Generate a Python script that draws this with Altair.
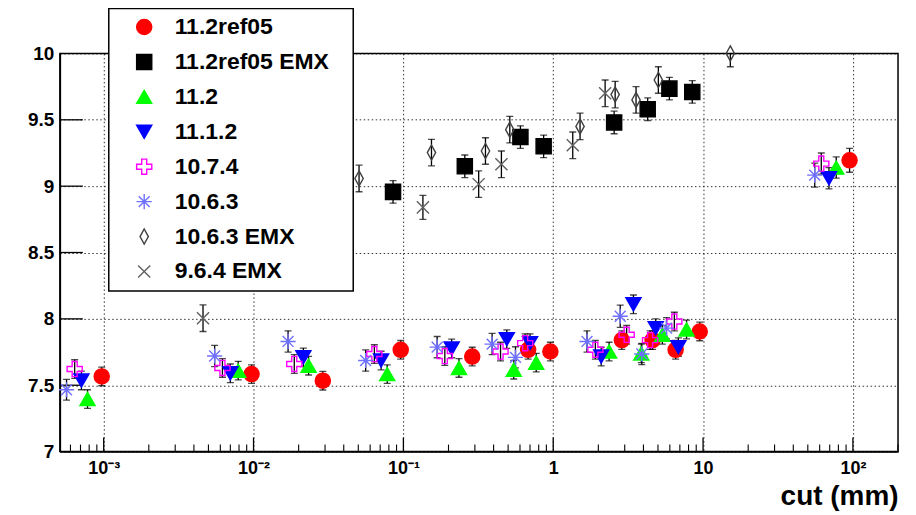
import altair as alt
import pandas as pd

# ---------------- data ----------------
SERIES = ["11.2ref05", "11.2ref05 EMX", "11.2", "11.1.2", "10.7.4",
          "10.6.3", "10.6.3 EMX", "9.6.4 EMX"]

ref05_x = [9.7e-4, 9.7e-3, 0.029, 0.096, 0.288, 0.68, 0.957, 2.87, 4.6, 6.56, 9.5, 95]
ref05_y = [7.566, 7.584, 7.534, 7.767, 7.716, 7.767, 7.754, 7.84, 7.84, 7.767, 7.905, 9.195]
ref05_e = [0.07, 0.07, 0.07, 0.07, 0.07, 0.07, 0.07, 0.07, 0.07, 0.07, 0.07, 0.09]

ref05emx_x = [0.0853, 0.257, 0.604, 0.863, 2.55, 4.27, 5.96, 8.47]
ref05emx_y = [8.957, 9.15, 9.37, 9.30, 9.48, 9.58, 9.735, 9.71]
ref05emx_e = [0.085, 0.085, 0.085, 0.085, 0.085, 0.085, 0.085, 0.085]

v112_x = [7.8e-4, 7.9e-3, 0.0233, 0.078, 0.235, 0.545, 0.77, 2.36, 3.87, 5.35, 7.76, 77.4]
v112_y = [7.396, 7.61, 7.647, 7.584, 7.63, 7.617, 7.67, 7.754, 7.74, 7.88, 7.92, 9.14]
v112_e = [0.07, 0.07, 0.07, 0.07, 0.07, 0.07, 0.07, 0.07, 0.07, 0.07, 0.07, 0.08]

v1112_x = [7.1e-4, 7.0e-3, 0.0215, 0.071, 0.21, 0.49, 0.70, 2.09, 3.43, 4.83, 6.84, 69.2]
v1112_y = [7.536, 7.59, 7.71, 7.686, 7.777, 7.847, 7.817, 7.716, 8.11, 7.93, 7.787, 9.06]
v1112_e = [0.07, 0.07, 0.07, 0.07, 0.07, 0.07, 0.07, 0.07, 0.07, 0.07, 0.07, 0.08]

v1074_x = [6.4e-4, 6.2e-3, 0.0187, 0.064, 0.189, 0.445, 0.65, 1.91, 3.09, 4.43, 6.43, 61.5]
v1074_y = [7.622, 7.63, 7.66, 7.735, 7.72, 7.754, 7.817, 7.767, 7.88, 7.84, 7.98, 9.17]
v1074_e = [0.07, 0.07, 0.07, 0.07, 0.07, 0.07, 0.07, 0.07, 0.07, 0.07, 0.07, 0.08]

v1063_x = [5.65e-4, 5.5e-3, 0.017, 0.056, 0.168, 0.391, 0.56, 1.68, 2.8, 3.9, 5.7, 55.6]
v1063_y = [7.466, 7.72, 7.83, 7.686, 7.787, 7.81, 7.71, 7.83, 8.02, 7.735, 7.93, 9.083]
v1063_e = [0.078, 0.08, 0.08, 0.08, 0.08, 0.08, 0.08, 0.08, 0.084, 0.08, 0.08, 0.09]

v1063emx_x = [0.0506, 0.154, 0.353, 0.513, 1.51, 2.59, 3.57, 5.03, 15.2]
v1063emx_y = [9.058, 9.253, 9.265, 9.426, 9.45, 9.69, 9.65, 9.80, 10.0]
v1063emx_e = [0.1, 0.1, 0.1, 0.1, 0.1, 0.1, 0.1, 0.1, 0.1]

v964emx_x = [4.6e-3, 0.135, 0.318, 0.451, 1.35, 2.22]
v964emx_y = [8.005, 8.84, 9.015, 9.165, 9.308, 9.70]
v964emx_e = [0.1, 0.09, 0.1, 0.1, 0.1, 0.1]

X_MAJOR = [1e-3, 1e-2, 1e-1, 1, 10, 100]
Y_MAJOR = [7, 7.5, 8, 8.5, 9, 9.5, 10]

# ---------------- styling ----------------
FILLS = ["#ff0000", "#000000", "#00ff00", "#0000ff", "transparent",
         "transparent", "transparent", "transparent"]
STROKES = ["#ff0000", "#000000", "#00ff00", "#0000ff", "#ff00ff",
           "#6f6fff", "#404040", "#606060"]
CROSS = ("M-0.33,-1L0.33,-1L0.33,-0.33L1,-0.33L1,0.33L0.33,0.33L0.33,1"
         "L-0.33,1L-0.33,0.33L-1,0.33L-1,-0.33L-0.33,-0.33Z")
STAR = "M-1,0L1,0M0,-1L0,1M-0.72,-0.72L0.72,0.72M-0.72,0.72L0.72,-0.72"
DIAMOND = "M0,-1L0.55,0L0,1L-0.55,0Z"
XMARK = "M-0.8,-0.8L0.8,0.8M-0.8,0.8L0.8,-0.8"
SHAPES = ["circle", "square", "triangle-up", "triangle-down", CROSS, STAR,
          DIAMOND, XMARK]

FONT = "Liberation Sans"
W, H = 840, 399

groups = [
    (ref05_x, ref05_y, ref05_e), (ref05emx_x, ref05emx_y, ref05emx_e),
    (v112_x, v112_y, v112_e), (v1112_x, v1112_y, v1112_e),
    (v1074_x, v1074_y, v1074_e), (v1063_x, v1063_y, v1063_e),
    (v1063emx_x, v1063emx_y, v1063emx_e), (v964emx_x, v964emx_y, v964emx_e),
]
rows = []
for k, (name, (xs, ys, es)) in enumerate(zip(SERIES, groups)):
    for x, y, e in zip(xs, ys, es):
        rows.append({"series": name, "order": k, "x": x, "y": y, "e": e})
df = pd.DataFrame(rows)

minor = []
for d in [1e-4, 1e-3, 1e-2, 1e-1, 1, 10, 100]:
    for m in range(2, 10):
        v = m * d
        if 5.1e-4 <= v <= 200:
            minor.append(v)

xscale = alt.Scale(type="log", domain=[5.1e-4, 200], nice=False)
yscale = alt.Scale(domain=[7, 10], nice=False, zero=False)

label_expr = ("datum.value < 0.005 ? '10⁻³' : datum.value < 0.05 ? '10⁻²' : "
              "datum.value < 0.5 ? '10⁻¹' : datum.value < 5 ? '1' : "
              "datum.value < 50 ? '10' : '10²'")

xaxis = alt.Axis(values=X_MAJOR, labelExpr=label_expr, ticks=False,
                 grid=True, gridDash=[1.5, 2.5], gridColor="black",
                 gridOpacity=0.8, gridWidth=1,
                 domainColor="black", domainWidth=1.5,
                 labelFont=FONT, labelFontSize=18, labelFontWeight="bold",
                 labelColor="black", labelPadding=8, labelOverlap=False,
                 title="cut (mm)", titleFont=FONT, titleFontSize=28,
                 titleFontWeight="bold", titleColor="black",
                 titleAnchor="end", titleAlign="right", titleX=W, titleY=53,
                 titleBaseline="alphabetic")
yaxis = alt.Axis(values=Y_MAJOR, format=".1~f", ticks=False,
                 grid=True, gridDash=[1.5, 2.5], gridColor="black",
                 gridOpacity=0.8, gridWidth=1,
                 domainColor="black", domainWidth=1.5,
                 labelFont=FONT, labelFontSize=19, labelFontWeight="bold",
                 labelColor="black", labelPadding=6, labelOverlap=False,
                 labelBound=False, title=None)

base = alt.Chart(df)

err_rule = base.mark_rule(color="black", strokeWidth=1.3, clip=True).transform_calculate(
    lo="datum.y - datum.e", hi="datum.y + datum.e"
).encode(
    x=alt.X("x:Q", scale=xscale, axis=xaxis),
    y=alt.Y("lo:Q", scale=yscale, axis=yaxis),
    y2="hi:Q",
)
cap_lo = base.mark_tick(color="black", orient="horizontal", size=7,
                        thickness=1.3, clip=True).transform_calculate(
    lo="datum.y - datum.e").encode(x=alt.X("x:Q", scale=xscale),
                                    y=alt.Y("lo:Q", scale=yscale))
cap_hi = base.mark_tick(color="black", orient="horizontal", size=7,
                        thickness=1.3, clip=True).transform_calculate(
    hi="datum.y + datum.e").encode(x=alt.X("x:Q", scale=xscale),
                                    y=alt.Y("hi:Q", scale=yscale))

legend = alt.Legend(
    orient="none", legendX=49, legendY=-45, title=None,
    fillColor="white", strokeColor="black",
    padding=7, symbolOffset=17, labelOffset=19, rowPadding=11,
    labelFont=FONT, labelFontSize=23, labelFontWeight="bold",
    labelColor="black", symbolSize=230, symbolStrokeWidth=1.4,
    labelLimit=400,
    labelExpr="datum.label + '\u2800'",
)

points = base.mark_point(size=230, strokeWidth=1.4, opacity=1,
                         filled=False, clip=False).encode(
    x=alt.X("x:Q", scale=xscale),
    y=alt.Y("y:Q", scale=yscale),
    shape=alt.Shape("series:N", scale=alt.Scale(domain=SERIES, range=SHAPES),
                    legend=legend),
    fill=alt.Fill("series:N", scale=alt.Scale(domain=SERIES, range=FILLS),
                  legend=legend),
    stroke=alt.Stroke("series:N", scale=alt.Scale(domain=SERIES, range=STROKES),
                      legend=legend),
    order=alt.Order("order:Q"),
)

tick_df = pd.DataFrame({"v": X_MAJOR})
minor_df = pd.DataFrame({"v": minor})
ytick_df = pd.DataFrame({"v": Y_MAJOR[1:-1]})

xmaj = alt.Chart(tick_df).mark_rule(color="black", strokeWidth=1.3).encode(
    x=alt.X("v:Q", scale=xscale), y=alt.value(H), y2=alt.value(H - 14))
xmin = alt.Chart(minor_df).mark_rule(color="black", strokeWidth=1.1).encode(
    x=alt.X("v:Q", scale=xscale), y=alt.value(H), y2=alt.value(H - 7))
ymaj = alt.Chart(ytick_df).mark_rule(color="black", strokeWidth=1.3).encode(
    y=alt.Y("v:Q", scale=yscale), x=alt.value(0), x2=alt.value(23))

chart = alt.layer(err_rule, cap_lo, cap_hi, xmaj, xmin, ymaj, points).properties(
    width=W, height=H,
    autosize=alt.AutoSizeParams(type="none"),
    padding={"left": 52, "top": 45, "right": 10, "bottom": 62},
    background="white",
).configure_view(stroke="black", strokeWidth=1.5).configure_legend(strokeWidth=1.5)

chart.save("out.html", embed_options={"renderer": "svg", "actions": False})
